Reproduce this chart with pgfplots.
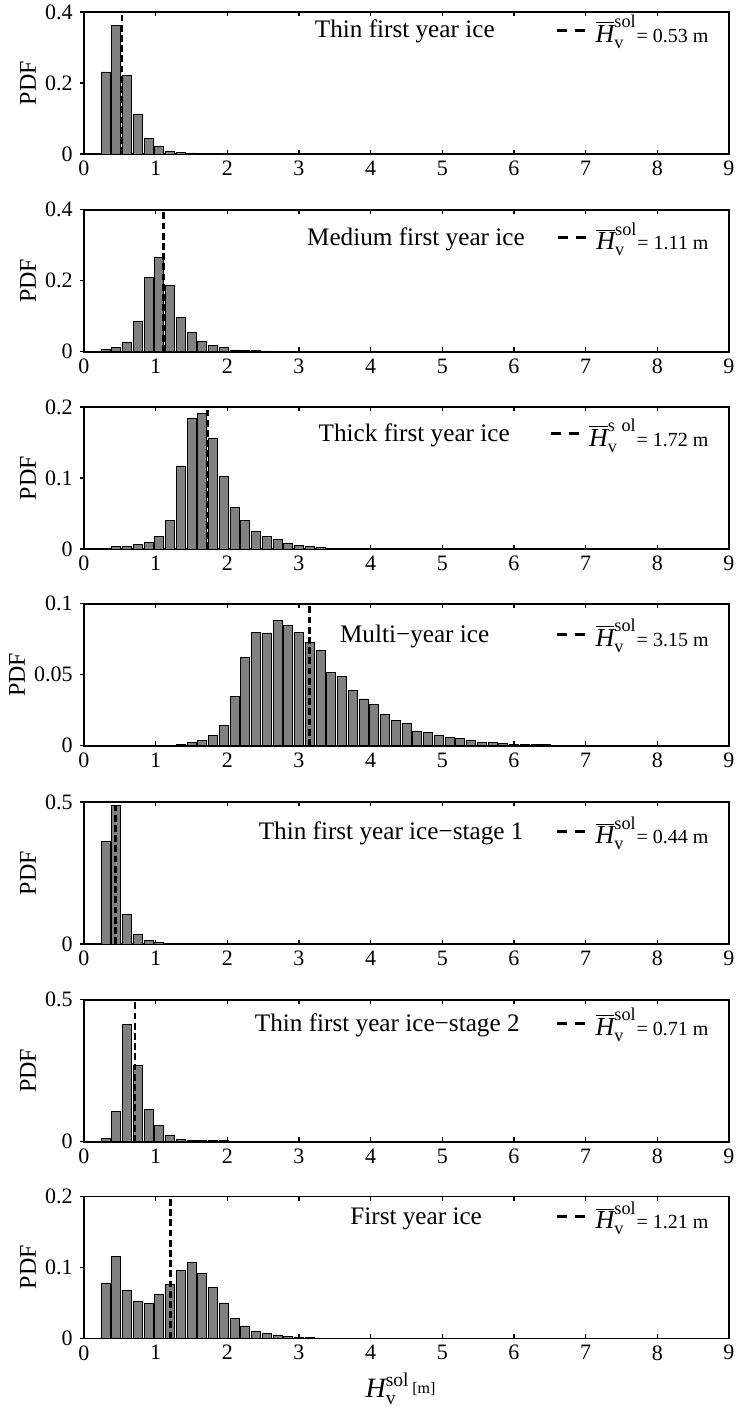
\documentclass[border=0pt]{standalone}
\usepackage{fontspec}
\setmainfont{Liberation Serif}
\usepackage{pgfplots}
\pgfplotsset{compat=1.18}
\definecolor{bargray}{RGB}{128,128,128}
\tikzset{ttl/.style={anchor=base west, font=\fontsize{12.6}{14}\selectfont}}
\pgfplotsset{
 panel/.style={
  scale only axis, width=322.5pt, height=71pt,
  anchor=south west,
  xmin=0, xmax=9, ymin=0,
  xtick={0,1,...,9},
  axis line style={line width=0.8pt},
  every tick/.style={black, line width=0.6pt},
  major tick length=2.2pt,
  xtick align=inside,
  ytick align=outside, ytick pos=left,
  tick label style={font=\fontsize{11}{13}\selectfont},
  /pgf/number format/assume math mode=true,
  scaled y ticks=false,
  ylabel={PDF},
  ylabel style={font=\fontsize{12}{14}\selectfont, inner sep=1pt},
  legend style={draw=none, fill=none, inner sep=0pt, anchor=east,
    font=\fontsize{13}{15}\selectfont, nodes={inner sep=1.5pt}},
  legend cell align=left,
  legend image code/.code={\draw[##1, line width=1.5pt, dash pattern=on 5pt off 4pt] (0pt,0pt) -- (14pt,0pt);},
 },
 bars/.style={ybar, bar width=0.125, fill=bargray, draw=black, line width=0.4pt, forget plot},
 meanline/.style={black, line width=1.35pt, dash pattern=on 3.4pt off 1.7pt},
}
\newcommand{\meanlab}[2][sol]{\hspace{3pt}$\overline{\textit{H}}^{\mathrm{#1}}_{\mathrm{v}}$\fontsize{10}{11}\selectfont{}=\hspace{2.5pt}#2\hspace{2.5pt}m}
\begin{document}
\begin{tikzpicture}
\useasboundingbox (0,0) rectangle (369.5pt,-704.5pt);
% Panel 1
\begin{axis}[panel, at={(42pt,-77pt)}, ymax=0.4, ytick={0,0.2,0.4}, yticklabels={0,0.2,0.4},
  legend style={at={(axis description cs:0.9736,0.873)}}]
\addplot[bars] coordinates {(0.15,0.001) (0.3,0.231) (0.45,0.361) (0.6,0.222) (0.75,0.112) (0.9,0.045) (1.05,0.0226) (1.2,0.0085) (1.35,0.004) (1.5,0.003) (1.65,0.0012) (1.8,0.0006) (1.95,0.0003)};
\addplot[meanline] coordinates {(0.53,0) (0.53,0.4)};
\addlegendentry{\meanlab{0.53}}
\node[ttl] at (rel axis cs:0.347,0.817) {Thin first year ice};
\end{axis}
% Panel 2
\begin{axis}[panel, at={(42pt,-175.85pt)}, ymax=0.4, ytick={0,0.2,0.4}, yticklabels={0,0.2,0.4},
  legend style={at={(axis description cs:0.9736,0.803)}}]
\addplot[bars] coordinates {(0.15,0.001) (0.3,0.0066) (0.45,0.011) (0.6,0.025) (0.75,0.086) (0.9,0.209) (1.05,0.265) (1.2,0.187) (1.35,0.0965) (1.5,0.054) (1.65,0.028) (1.8,0.0187) (1.95,0.011) (2.1,0.005) (2.25,0.004) (2.4,0.003) (2.55,0.002) (2.7,0.0018) (2.85,0.0015) (3.0,0.001) (3.15,0.0008) (3.3,0.0005) (3.45,0.0004) (3.6,0.0003)};
\addplot[meanline] coordinates {(1.11,0) (1.11,0.4)};
\addlegendentry{\meanlab{1.11}}
\node[ttl] at (rel axis cs:0.335,0.747) {Medium first year ice};
\end{axis}
% Panel 3
\begin{axis}[panel, at={(42pt,-274.5pt)}, ymax=0.2, ytick={0,0.1,0.2}, yticklabels={0,0.1,0.2},
  legend style={at={(axis description cs:0.9736,0.81)}}]
\addplot[bars] coordinates {(0.3,0.001) (0.45,0.0033) (0.6,0.0042) (0.75,0.0066) (0.9,0.0098) (1.05,0.0173) (1.2,0.0407) (1.35,0.117) (1.5,0.1836) (1.65,0.1906) (1.8,0.156) (1.95,0.1016) (2.1,0.058) (2.25,0.0403) (2.4,0.0253) (2.55,0.0183) (2.7,0.0131) (2.85,0.008) (3.0,0.005) (3.15,0.003) (3.3,0.0023) (3.45,0.0012) (3.6,0.001) (3.75,0.0006) (3.9,0.0004)};
\addplot[meanline] coordinates {(1.72,0) (1.72,0.2)};
\addlegendentry{\meanlab[s\ ol]{1.72}}
\node[ttl] at (rel axis cs:0.353,0.754) {Thick first year ice};
\end{axis}
% Panel 4
\begin{axis}[panel, at={(42pt,-372.85pt)}, ymax=0.1, ytick={0,0.05,0.1}, yticklabels={0,0.05,0.1},
  legend style={at={(axis description cs:0.9736,0.784)}}]
\addplot[bars] coordinates {(0.9,0.0002) (1.05,0.0003) (1.2,0.0005) (1.35,0.001) (1.5,0.0024) (1.65,0.0035) (1.8,0.0073) (1.95,0.014) (2.1,0.035) (2.25,0.0624) (2.4,0.080) (2.55,0.0794) (2.7,0.0884) (2.85,0.0846) (3.0,0.080) (3.15,0.073) (3.3,0.0669) (3.45,0.0518) (3.6,0.0489) (3.75,0.0388) (3.9,0.0329) (4.05,0.0293) (4.2,0.0222) (4.35,0.018) (4.5,0.0158) (4.65,0.0104) (4.8,0.0092) (4.95,0.0073) (5.1,0.0057) (5.25,0.005) (5.4,0.0038) (5.55,0.0026) (5.7,0.0026) (5.85,0.0014) (6.0,0.001) (6.15,0.0008) (6.3,0.0007) (6.45,0.0006) (6.6,0.0005) (6.75,0.0005) (6.9,0.0004) (7.05,0.0004) (7.2,0.0003) (7.35,0.0003) (7.5,0.0003) (7.65,0.0002) (7.8,0.0002) (7.95,0.0002) (8.1,0.0002) (8.25,0.0001) (8.4,0.0001) (8.55,0.0001) (8.7,0.0001)};
\addplot[meanline] coordinates {(3.15,0) (3.15,0.1)};
\addlegendentry{\meanlab{3.15}}
\node[ttl] at (rel axis cs:0.386,0.728) {Multi\textminus year ice};
\end{axis}
% Panel 5
\begin{axis}[panel, at={(42pt,-472pt)}, ymax=0.5, ytick={0,0.5}, yticklabels={0,0.5},
  legend style={at={(axis description cs:0.9736,0.791)}}]
\addplot[bars] coordinates {(0.15,0.001) (0.3,0.361) (0.45,0.487) (0.6,0.105) (0.75,0.034) (0.9,0.012) (1.05,0.005) (1.2,0.001) (1.35,0.0005)};
\addplot[meanline] coordinates {(0.44,0) (0.44,0.5)};
\addlegendentry{\meanlab{0.44}}
\node[ttl] at (rel axis cs:0.26,0.735) {Thin first year ice\textminus stage 1};
\end{axis}
% Panel 6
\begin{axis}[panel, at={(42pt,-570.85pt)}, ymax=0.5, ytick={0,0.5}, yticklabels={0,0.5},
  legend style={at={(axis description cs:0.9736,0.833)}}]
\addplot[bars] coordinates {(0.15,0.001) (0.3,0.012) (0.45,0.107) (0.6,0.414) (0.75,0.269) (0.9,0.114) (1.05,0.058) (1.2,0.021) (1.35,0.0094) (1.5,0.0059) (1.65,0.004) (1.8,0.003) (1.95,0.003) (2.1,0.0015) (2.25,0.001) (2.4,0.0008) (2.55,0.0005)};
\addplot[meanline] coordinates {(0.71,0) (0.71,0.5)};
\addlegendentry{\meanlab{0.71}}
\node[ttl] at (rel axis cs:0.254,0.777) {Thin first year ice\textminus stage 2};
\end{axis}
% Panel 7
\begin{axis}[panel, at={(42pt,-669.15pt)}, ymax=0.2, ytick={0,0.1,0.2}, yticklabels={0,0.1,0.2},
  legend style={at={(axis description cs:0.9736,0.856)}},
  xlabel={{\fontsize{14}{16}\selectfont$\textit{H}^{\mathrm{sol}}_{\mathrm{v}}$}\raisebox{2pt}{\fontsize{8}{9}\selectfont\,[m]}},
  xlabel style={inner sep=1pt, xshift=-3pt, yshift=-2pt}]
\addplot[bars] coordinates {(0.3,0.078) (0.45,0.1158) (0.6,0.0678) (0.75,0.0522) (0.9,0.0494) (1.05,0.0616) (1.2,0.0762) (1.35,0.096) (1.5,0.1064) (1.65,0.0908) (1.8,0.0711) (1.95,0.0494) (2.1,0.0282) (2.25,0.0174) (2.4,0.0104) (2.55,0.007) (2.7,0.0047) (2.85,0.0028) (3.0,0.0019) (3.15,0.0008) (3.3,0.0003)};
\addplot[meanline] coordinates {(1.21,0) (1.21,0.2)};
\addlegendentry{\meanlab{1.21}}
\node[ttl] at (rel axis cs:0.402,0.80) {First year ice};
\end{axis}
\end{tikzpicture}
\end{document}
